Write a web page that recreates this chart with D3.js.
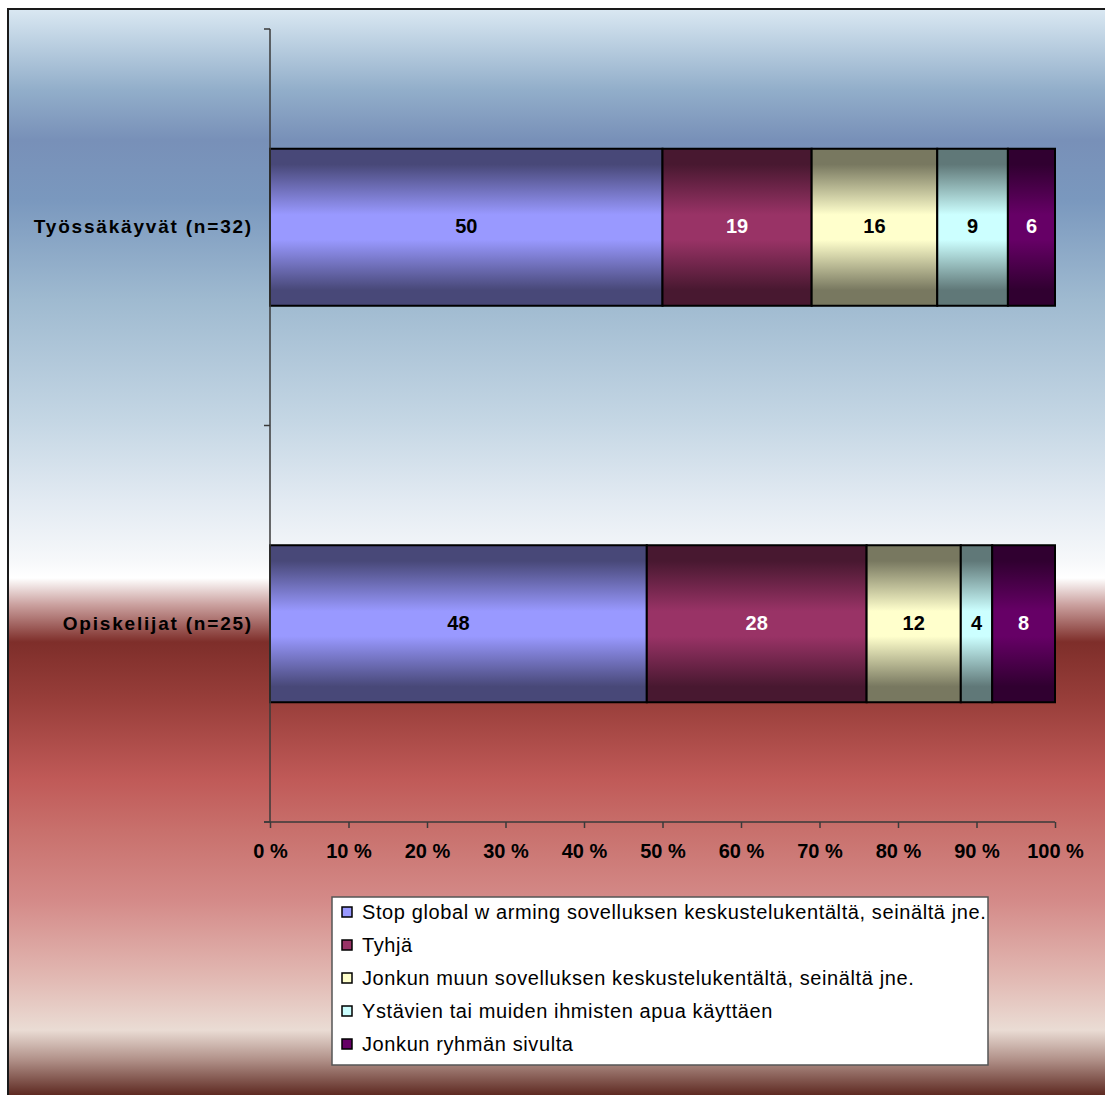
<!DOCTYPE html>
<html>
<head>
<meta charset="utf-8">
<script src="https://cdn.jsdelivr.net/npm/d3@7"></script>
<style>
  html, body { margin: 0; padding: 0; background: #ffffff; }
  svg { display: block; font-family: "Liberation Sans", Arial, sans-serif; }
</style>
</head>
<body>
<svg id="chart" width="1105" height="1095"></svg>
<script>
// Groups (top to bottom) and answer categories
const categories = ["Työssäkäyvät (n=32)", "Opiskelijat (n=25)"];
const seriesNames = [
  "Stop global w arming sovelluksen keskustelukentältä, seinältä jne.",
  "Tyhjä",
  "Jonkun muun sovelluksen keskustelukentältä, seinältä jne.",
  "Ystävien tai muiden ihmisten apua käyttäen",
  "Jonkun ryhmän sivulta"
];
// Percent shares per group, in series order
const tyossakayvat = [50, 19, 16, 9, 6];
const opiskelijat = [48, 28, 12, 4, 8];
const tickValues = [0, 10, 20, 30, 40, 50, 60, 70, 80, 90, 100];

const seriesColors = ["#9999FF", "#993366", "#FFFFCC", "#CCFFFF", "#660066"];
const labelColors = ["#000", "#fff", "#000", "#000", "#fff"];

const rows = [tyossakayvat, opiskelijat];
const svg = d3.select("#chart");
const defs = svg.append("defs");

// Background: blue sky fading to white, then red fading down to a brown edge
const bg = defs.append("linearGradient").attr("id", "bg")
  .attr("gradientUnits", "userSpaceOnUse")
  .attr("x1", 0).attr("y1", 9).attr("x2", 0).attr("y2", 1095);
[
  [9, "#dae8f2"], [40, "#bed2e3"], [90, "#92aeca"], [140, "#7890b8"],
  [200, "#7a98be"], [300, "#9fbad0"], [420, "#c4d6e4"], [500, "#e2eaf2"],
  [560, "#f6f8fa"], [578, "#ffffff"], [605, "#caa09e"], [642, "#7e2e2a"],
  [700, "#983e3a"], [780, "#c05a58"], [830, "#c8706c"], [900, "#d48a88"],
  [980, "#e2bab4"], [1030, "#eadcd4"], [1060, "#b09088"], [1095, "#5e2a22"]
].forEach(([y, c]) => bg.append("stop")
  .attr("offset", ((y - 9) / (1095 - 9))).attr("stop-color", c));

svg.append("rect").attr("x", 8).attr("y", 9).attr("width", 1110).attr("height", 1100)
  .attr("fill", "url(#bg)").attr("stroke", "#1a1a1a").attr("stroke-width", 2);

// Cylinder-like vertical shading for each series
seriesColors.forEach((c, i) => {
  const base = d3.rgb(c); const k = 0.47;
  const dk = d3.rgb(base.r * k, base.g * k, base.b * k).formatHex();
  const g = defs.append("linearGradient").attr("id", "s" + i)
    .attr("x1", 0).attr("y1", 0).attr("x2", 0).attr("y2", 1);
  [[0, dk], [0.1, dk], [0.42, c], [0.58, c], [0.9, dk], [1, dk]]
    .forEach(([o, col]) => g.append("stop").attr("offset", o).attr("stop-color", col));
});

const x = d3.scaleLinear().domain([0, 100]).range([270, 1055]);
const y = d3.scaleBand().domain(categories).range([29, 822]).padding(0);
const barH = y.bandwidth() * 0.396;

// Stacked bars
rows.forEach((vals, r) => {
  const cat = categories[r];
  const yc = y(cat) + y.bandwidth() / 2;
  let acc = 0;
  const stacked = vals.map((v, i) => { const s = { i, v, x0: acc, x1: acc + v }; acc += v; return s; });
  const g = svg.append("g");
  g.selectAll("rect").data(stacked).join("rect")
    .attr("x", d => x(d.x0)).attr("y", yc - barH / 2)
    .attr("width", d => x(d.x1) - x(d.x0)).attr("height", barH)
    .attr("fill", d => "url(#s" + d.i + ")")
    .attr("stroke", "#000").attr("stroke-width", 2);
  g.selectAll("text").data(stacked).join("text")
    .attr("x", d => (x(d.x0) + x(d.x1)) / 2).attr("y", yc - 1)
    .attr("dy", "0.36em").attr("text-anchor", "middle")
    .attr("font-size", 20).attr("font-weight", "bold")
    .attr("fill", d => labelColors[d.i])
    .text(d => d.v);
});

// Category axis
const yAxisG = svg.append("g");
yAxisG.append("line").attr("x1", 270).attr("x2", 270).attr("y1", 29).attr("y2", 822)
  .attr("stroke", "#3a3a3a").attr("stroke-width", 1.5);
[29, y(categories[1]), 822].forEach(t =>
  yAxisG.append("line").attr("x1", 264).attr("x2", 270).attr("y1", t).attr("y2", t)
    .attr("stroke", "#3a3a3a").attr("stroke-width", 1.5));
yAxisG.selectAll("text.cat").data(categories).join("text")
  .attr("class", "cat")
  .attr("x", 253).attr("y", d => y(d) + y.bandwidth() / 2 - 1)
  .attr("dy", "0.36em").attr("text-anchor", "end")
  .attr("font-size", 19).attr("font-weight", "bold").attr("letter-spacing", 1.8)
  .attr("fill", "#000").text(d => d);

// Percent axis
const xAxis = d3.axisBottom(x).tickValues(tickValues)
  .tickSize(6).tickPadding(16).tickFormat(d => d + " %");
const xg = svg.append("g").attr("transform", "translate(0,822)").call(xAxis);
xg.select(".domain").attr("stroke", "#3a3a3a").attr("stroke-width", 1.5)
  .attr("d", "M264,0H1055");
xg.selectAll(".tick line").attr("stroke", "#3a3a3a").attr("stroke-width", 1.5);
xg.selectAll(".tick text").attr("fill", "#000")
  .attr("font-family", "\"Liberation Sans\", Arial, sans-serif")
  .attr("font-size", 20).attr("font-weight", "bold").attr("letter-spacing", 0);

// Legend
const lg = svg.append("g");
lg.append("rect").attr("x", 332).attr("y", 897).attr("width", 656).attr("height", 168)
  .attr("fill", "#fff").attr("stroke", "#555").attr("stroke-width", 1.5);
const items = lg.selectAll("g.item").data(seriesNames).join("g")
  .attr("class", "item")
  .attr("transform", (d, i) => `translate(342,${912 + i * 33})`);
items.append("rect").attr("x", 0).attr("y", -5).attr("width", 10).attr("height", 10)
  .attr("fill", (d, i) => seriesColors[i]).attr("stroke", "#000").attr("stroke-width", 1.5);
items.append("text").attr("x", 20).attr("y", 0).attr("dy", "0.36em")
  .attr("font-size", 20).attr("letter-spacing", 0.6).attr("fill", "#000").text(d => d);
</script>
</body>
</html>
